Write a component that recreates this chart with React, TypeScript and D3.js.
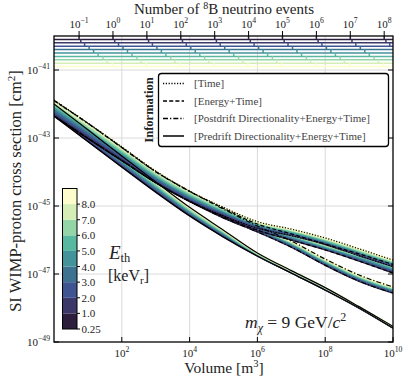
import React from 'react';
import * as d3 from 'd3';

// thresholds (keV_r) and the colour of each one
const thresholds = [0.25, 1, 2, 3, 4, 5, 6, 7, 8];
const thresholdColors = ['#2b1f3d', '#3b3768', '#3e5592', '#3d7391', '#43939a', '#59b8a0', '#94d5a8', '#d4eeb6', '#fdfdcb'];

// volumes in m^3 where the limits are sampled
const volumes = [1e0, 1e1, 1e2, 1e3, 1e4, 1e5, 1e6, 1e7, 1e8, 1e9, 1e10];

// 8B neutrino events per m^3 for each threshold
const eventsPerVolume = [0.0182, 0.0162, 0.0125, 0.0092, 0.0068, 0.005, 0.0036, 0.0027, 0.0019];

const eventTickExps = [-1, 0, 1, 2, 3, 4, 5, 6, 7, 8];
const volumeTickExps = [2, 4, 6, 8, 10];
const sigmaTickExps = [-49, -47, -45, -43, -41];

// log10 of the cross section limit [cm^2]; rows = thresholds, columns = volumes
const timeLimits = [
  [-42.35, -43.01, -43.66, -44.31, -44.86, -45.29, -45.65, -45.87, -46.13, -46.46, -46.78],
  [-42.30, -42.96, -43.62, -44.28, -44.83, -45.26, -45.63, -45.85, -46.11, -46.44, -46.76],
  [-42.25, -42.91, -43.57, -44.24, -44.79, -45.23, -45.61, -45.83, -46.09, -46.42, -46.74],
  [-42.19, -42.85, -43.52, -44.19, -44.75, -45.20, -45.58, -45.80, -46.06, -46.39, -46.71],
  [-42.12, -42.79, -43.47, -44.15, -44.72, -45.17, -45.56, -45.78, -46.04, -46.36, -46.69],
  [-42.07, -42.74, -43.42, -44.11, -44.68, -45.14, -45.54, -45.76, -46.02, -46.34, -46.67],
  [-42.01, -42.69, -43.37, -44.07, -44.64, -45.11, -45.51, -45.73, -45.99, -46.32, -46.64],
  [-41.95, -42.62, -43.32, -44.02, -44.60, -45.07, -45.49, -45.71, -45.97, -46.29, -46.62],
  [-41.88, -42.56, -43.26, -43.97, -44.56, -45.04, -45.46, -45.68, -45.94, -46.26, -46.59],
];

const energyTimeLimits = [
  [-42.35, -43.01, -43.66, -44.31, -44.86, -45.32, -45.71, -46.00, -46.29, -46.62, -46.97],
  [-42.30, -42.97, -43.62, -44.28, -44.83, -45.29, -45.69, -45.98, -46.27, -46.60, -46.94],
  [-42.25, -42.91, -43.58, -44.24, -44.80, -45.26, -45.67, -45.96, -46.25, -46.57, -46.91],
  [-42.19, -42.86, -43.53, -44.20, -44.76, -45.23, -45.65, -45.94, -46.23, -46.55, -46.88],
  [-42.13, -42.80, -43.48, -44.16, -44.72, -45.20, -45.62, -45.91, -46.21, -46.52, -46.85],
  [-42.08, -42.75, -43.43, -44.12, -44.69, -45.17, -45.60, -45.89, -46.19, -46.49, -46.82],
  [-42.03, -42.69, -43.39, -44.08, -44.65, -45.14, -45.58, -45.87, -46.17, -46.47, -46.79],
  [-41.96, -42.63, -43.33, -44.03, -44.61, -45.10, -45.56, -45.85, -46.14, -46.44, -46.75],
  [-41.90, -42.57, -43.28, -43.99, -44.57, -45.07, -45.53, -45.82, -46.12, -46.41, -46.72],
];

const postdriftLimits = [
  [-42.35, -43.01, -43.66, -44.31, -44.86, -45.35, -45.76, -46.21, -46.74, -47.21, -47.56],
  [-42.30, -42.97, -43.62, -44.28, -44.83, -45.32, -45.74, -46.19, -46.72, -47.19, -47.54],
  [-42.25, -42.91, -43.58, -44.24, -44.80, -45.29, -45.72, -46.17, -46.70, -47.17, -47.52],
  [-42.19, -42.86, -43.53, -44.20, -44.76, -45.26, -45.70, -46.15, -46.68, -47.15, -47.50],
  [-42.13, -42.80, -43.48, -44.16, -44.72, -45.23, -45.68, -46.12, -46.65, -47.12, -47.47],
  [-42.08, -42.75, -43.43, -44.12, -44.69, -45.19, -45.66, -46.10, -46.63, -47.10, -47.45],
  [-42.03, -42.69, -43.39, -44.08, -44.65, -45.16, -45.64, -46.08, -46.61, -47.08, -47.43],
  [-41.96, -42.63, -43.33, -44.03, -44.61, -45.13, -45.61, -46.06, -46.59, -47.06, -47.41],
  [-41.90, -42.57, -43.28, -43.99, -44.57, -45.09, -45.59, -46.03, -46.56, -47.03, -47.38],
];

const predriftLimits = [
  [-42.35, -43.10, -43.85, -44.59, -45.29, -45.91, -46.47, -46.97, -47.47, -48.00, -48.59],
  [-42.31, -43.07, -43.82, -44.56, -45.26, -45.89, -46.46, -46.96, -47.46, -48.00, -48.58],
  [-42.27, -43.03, -43.78, -44.52, -45.23, -45.87, -46.45, -46.95, -47.45, -47.99, -48.58],
  [-42.23, -42.98, -43.74, -44.48, -45.20, -45.84, -46.44, -46.95, -47.45, -47.99, -48.57],
  [-42.18, -42.94, -43.70, -44.45, -45.17, -45.81, -46.43, -46.94, -47.44, -47.98, -48.57],
  [-42.14, -42.90, -43.66, -44.41, -45.14, -45.79, -46.42, -46.93, -47.43, -47.98, -48.56],
  [-42.10, -42.86, -43.62, -44.37, -45.11, -45.77, -46.41, -46.92, -47.42, -47.97, -48.55],
  [-42.05, -42.81, -43.57, -44.33, -45.07, -45.74, -46.39, -46.91, -47.41, -47.97, -48.55],
  [-42.00, -42.76, -43.53, -44.29, -45.04, -45.71, -46.38, -46.90, -47.40, -47.96, -48.54],
];

const infoLabels = ['[Time]', '[Energy+Time]', '[Postdrift Directionality+Energy+Time]', '[Predrift Directionality+Energy+Time]'];
const infoDashes = ['1.2 1.6', '4 2.2', '5 2 1.3 2', null];
const infoLimits = [timeLimits, energyTimeLimits, postdriftLimits, predriftLimits];

const W = 407;
const H = 381;
const left = 54, right = 393, top = 36, bottom = 342;
const FONT = '"Liberation Serif", "DejaVu Serif", serif';

const fmtExp = (e: number) => (e < 0 ? '\u2212' + Math.abs(e) : String(e));

const Pow10 = ({ exp, size }: { exp: number; size: number }) => (
  <>
    <tspan>10</tspan>
    <tspan dy={-size * 0.42} fontSize={size * 0.7}>{fmtExp(exp)}</tspan>
  </>
);

export default function App() {
  const x = d3.scaleLog().domain([1, 1e10]).range([left, right]);
  const y = d3.scaleLog().domain([1e-49, 1e-40]).range([bottom, top]);
  const xTop = d3.scaleLog().domain([eventsPerVolume[0], eventsPerVolume[0] * 1e10]).range([left, right]);
  const cb = d3.scaleLinear().domain([0, thresholds.length]).range([329, 188.5]);

  const line = d3.line<number>()
    .x((_, j) => x(volumes[j]))
    .y(v => y(Math.pow(10, v)))
    .curve(d3.curveMonotoneX);

  // order: predrift first so the upper group sits on top
  const drawOrder = [3, 2, 1, 0];

  return (
    <svg width={W} height={H} style={{ position: 'absolute', left: 0, top: 0 }} fontFamily={FONT}>
      <defs>
        <clipPath id="plot">
          <rect x={left} y={top} width={right - left} height={bottom - top} />
        </clipPath>
      </defs>
      <rect width={W} height={H} fill="white" />

      {/* grid */}
      <g stroke="#d6d6d6" strokeWidth={0.9}>
        {volumeTickExps.slice(0, -1).map(e => (
          <line key={'gx' + e} x1={x(Math.pow(10, e))} x2={x(Math.pow(10, e))} y1={top} y2={bottom} />
        ))}
        {sigmaTickExps.slice(1).map(e => (
          <line key={'gy' + e} x1={left} x2={right} y1={y(Math.pow(10, e))} y2={y(Math.pow(10, e))} />
        ))}
      </g>

      {/* neutrino event lines */}
      <g clipPath="url(#plot)">
        {eventsPerVolume.map((rate, i) => {
          const yl = y(Math.pow(10, -40 - 0.1 * (i + 1)));
          return (
            <g key={'nu' + i} stroke={thresholdColors[i]} strokeWidth={1.5}>
              <line x1={left} x2={right} y1={yl} y2={yl} />
              {eventTickExps.map(n => {
                const xv = x(Math.pow(10, n) / rate);
                if (xv < left || xv > right) return null;
                return <line key={n} x1={xv} x2={xv} y1={yl} y2={yl - 3.4} />;
              })}
            </g>
          );
        })}
      </g>

      {/* limit curves */}
      <g clipPath="url(#plot)" fill="none">
        {drawOrder.map(t => (
          <g key={'c' + t}>
            {infoLimits[t].map((row, k) => (
              <path key={k} d={line(row) || ''} stroke={thresholdColors[k]} strokeWidth={1.6} />
            ))}
          </g>
        ))}
        {drawOrder.map(t => (
          <g key={'b' + t} stroke="black" strokeWidth={1.2} strokeDasharray={infoDashes[t] || undefined}>
            <path d={line(infoLimits[t][0]) || ''} />
            <path d={line(infoLimits[t][thresholds.length - 1]) || ''} />
          </g>
        ))}
      </g>

      {/* frame and ticks */}
      <rect x={left} y={top} width={right - left} height={bottom - top} fill="none" stroke="black" strokeWidth={1.3} />
      <g stroke="black" strokeWidth={1}>
        {volumeTickExps.map(e => (
          <line key={'tx' + e} x1={x(Math.pow(10, e))} x2={x(Math.pow(10, e))} y1={bottom} y2={bottom - 5} />
        ))}
        {sigmaTickExps.map(e => (
          <g key={'ty' + e}>
            <line x1={left} x2={left + 5} y1={y(Math.pow(10, e))} y2={y(Math.pow(10, e))} />
            <line x1={right} x2={right - 5} y1={y(Math.pow(10, e))} y2={y(Math.pow(10, e))} />
          </g>
        ))}
        {eventTickExps.map(n => (
          <line key={'tt' + n} x1={xTop(Math.pow(10, n))} x2={xTop(Math.pow(10, n))} y1={top} y2={top - 5} />
        ))}
      </g>

      {/* tick labels */}
      <g fontSize={11} fill="#222">
        {volumeTickExps.map(e => (
          <text key={'lx' + e} x={x(Math.pow(10, e))} y={357} textAnchor="middle"><Pow10 exp={e} size={11} /></text>
        ))}
        {sigmaTickExps.map(e => (
          <text key={'ly' + e} x={50} y={y(Math.pow(10, e)) + 4} textAnchor="end"><Pow10 exp={e} size={11} /></text>
        ))}
        {eventTickExps.map(n => (
          <text key={'lt' + n} x={xTop(Math.pow(10, n))} y={28} textAnchor="middle"><Pow10 exp={n} size={11} /></text>
        ))}
      </g>

      {/* axis titles */}
      <text x={224} y={13.5} fontSize={15} textAnchor="middle" fill="#222">
        Number of <tspan dy={-4.5} fontSize={10}>8</tspan><tspan dy={4.5}>B neutrino events</tspan>
      </text>
      <text x={224} y={373} fontSize={15.5} textAnchor="middle" fill="#222">
        Volume [m<tspan dy={-6} fontSize={10.5}>3</tspan><tspan dy={6}>]</tspan>
      </text>
      <text transform={`translate(21,${(top + bottom) / 2 + 2}) rotate(-90)`} fontSize={16.5} textAnchor="middle" fill="#222">
        SI WIMP-proton cross section [cm<tspan dy={-6} fontSize={11}>2</tspan><tspan dy={6}>]</tspan>
      </text>

      {/* legend */}
      <rect x={158.5} y={73.5} width={230} height={73} rx={3} fill="white" stroke="black" strokeWidth={1.3} />
      <text transform="translate(152.5,110) rotate(-90)" fontSize={12.5} fontWeight="bold" textAnchor="middle" fill="#222">Information</text>
      {infoLabels.map((label, i) => {
        const ry = 83.5 + i * 17.5;
        return (
          <g key={'lg' + i}>
            <line x1={163} x2={184} y1={ry} y2={ry} stroke="black" strokeWidth={1.5} strokeDasharray={infoDashes[i] || undefined} />
            <text x={194} y={ry + 3.8} fontSize={11} fill="#444">{label}</text>
          </g>
        );
      })}

      {/* colorbar */}
      <g>
        {thresholds.map((t, k) => (
          <rect key={'cb' + k} x={62.5} width={14.5} y={cb(k + 1)} height={cb(k) - cb(k + 1)} fill={thresholdColors[k]} />
        ))}
        <rect x={62.5} width={14.5} y={cb(thresholds.length)} height={cb(0) - cb(thresholds.length)} fill="none" stroke="black" strokeWidth={1} />
        {thresholds.map((t, k) => (
          <g key={'cbt' + k}>
            <line x1={77} x2={80} y1={cb(k)} y2={cb(k)} stroke="black" strokeWidth={1} />
            <text x={81.5} y={cb(k) + 4} fontSize={11} fill="#222">{k === 0 ? t.toFixed(2) : t.toFixed(1)}</text>
          </g>
        ))}
      </g>
      <text x={109} y={258.5} fontSize={19} fill="#222">
        <tspan fontStyle="italic">E</tspan><tspan dy={3.5} fontSize={12.5}>th</tspan>
      </text>
      <text x={108} y={281} fontSize={16} fill="#222">
        [keV<tspan dy={3} fontSize={11}>r</tspan><tspan dy={-3}>]</tspan>
      </text>

      {/* mass label */}
      <text x={245} y={328} fontSize={17.5} fill="#222">
        <tspan fontStyle="italic">m</tspan><tspan dy={4} fontSize={12} fontStyle="italic">χ</tspan>
        <tspan dy={-4}> = 9 GeV/</tspan><tspan fontStyle="italic">c</tspan><tspan dy={-7} fontSize={12}>2</tspan>
      </text>
    </svg>
  );
}
